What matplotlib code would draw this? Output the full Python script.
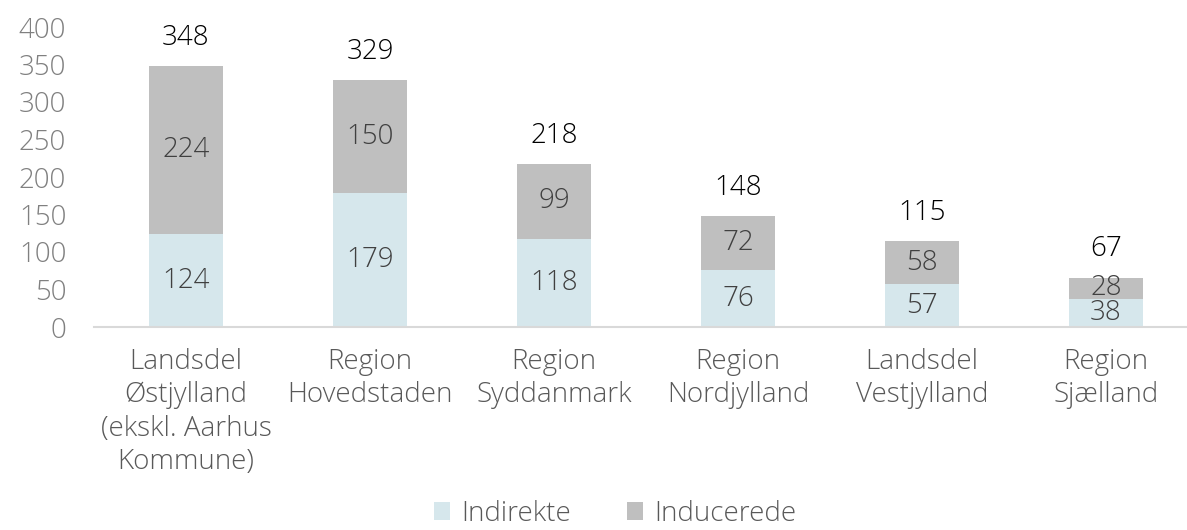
import matplotlib.pyplot as plt
import numpy as np

regions = ['Landsdel\nØstjylland\n(ekskl. Aarhus\nKommune)', 'Region\nHovedstaden',
           'Region\nSyddanmark', 'Region\nNordjylland', 'Landsdel\nVestjylland', 'Region\nSjælland']
indirekte = [124, 179, 118, 76, 57, 38]
inducerede = [224, 150, 99, 72, 58, 28]
totals = [348, 329, 218, 148, 115, 67]

plt.rcParams['font.family'] = ['Open Sans', 'DejaVu Sans']
plt.rcParams['font.weight'] = 'light'
fs = 20

fig = plt.figure(figsize=(11.87, 5.30), dpi=100)
ax = fig.add_axes([94 / 1187, (530 - 327) / 530, 1104 / 1187, 300 / 530])

x = np.arange(len(regions))
w = 0.4
b1 = ax.bar(x, indirekte, w, color='#d6e7ec', label='Indirekte')
b2 = ax.bar(x, inducerede, w, bottom=indirekte, color='#bfbfbf', label='Inducerede')

for i in range(len(regions)):
    ax.text(x[i], indirekte[i] / 2, str(indirekte[i]), ha='center', va='center',
            fontsize=fs, color='#404040')
    ax.text(x[i], indirekte[i] + inducerede[i] / 2, str(inducerede[i]), ha='center',
            va='center', fontsize=fs, color='#404040')
    ax.annotate(str(totals[i]), (x[i], totals[i]), xytext=(0, 20), textcoords='offset points',
                ha='center', va='center', fontsize=fs, color='black')

ax.set_xlim(-0.5, 5.5)
ax.set_ylim(0, 400)
ax.set_yticks(range(0, 401, 50))
ax.set_xticks(x)
ax.set_xticklabels(regions, color='#595959', fontsize=fs, linespacing=1.26)
ax.tick_params(axis='y', colors='#808080', labelsize=fs, length=0, pad=20)
ax.tick_params(axis='x', length=0, pad=15)
for s in ['top', 'right', 'left']:
    ax.spines[s].set_visible(False)
ax.spines['bottom'].set_color('#d9d9d9')
ax.spines['bottom'].set_linewidth(1.5)

fig.legend(handles=[b1, b2], loc='center', bbox_to_anchor=(615 / 1187, 1 - 514 / 530), ncol=2,
           frameon=False, fontsize=fs, handlelength=0.6, handleheight=0.6, handletextpad=0.4,
           columnspacing=2.0, labelcolor='#595959')

fig.savefig('out.png', dpi=100)
